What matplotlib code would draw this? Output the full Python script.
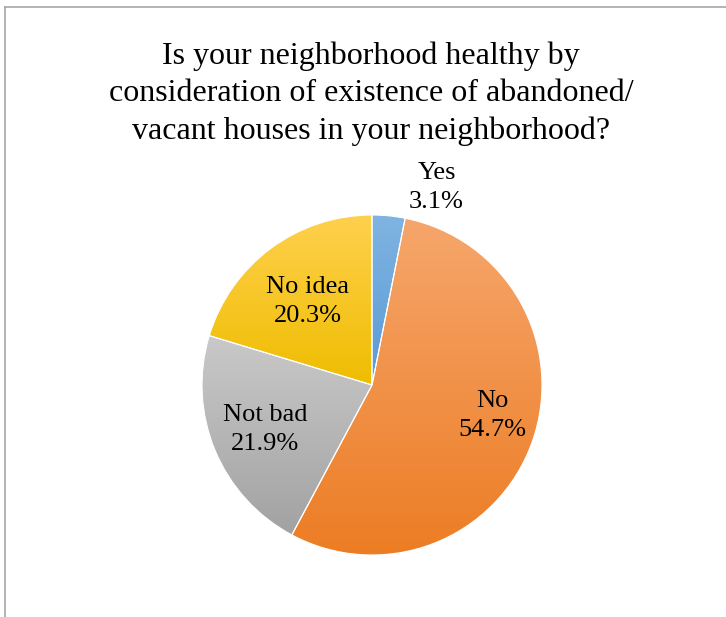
import numpy as np
import matplotlib.pyplot as plt
from matplotlib.colors import LinearSegmentedColormap
from matplotlib.lines import Line2D

# ----- Data -----
categories = ["Yes", "No", "Not bad", "No idea"]
counts = [2, 35, 14, 13]  # out of 64 responses
title = ("Is your neighborhood healthy by\n"
         "consideration of existence of abandoned/\n"
         "vacant houses in your neighborhood?")

# gradient colours (top, bottom) per slice
grad_top = ["#80B4E2", "#F6A66C", "#C9C9C9", "#FFD04E"]
grad_bottom = ["#5A9AD4", "#EC7D24", "#A2A2A2", "#EFBD00"]

plt.rcParams["font.family"] = ["Liberation Serif", "DejaVu Serif"]

W, H = 726, 617
fig = plt.figure(figsize=(W / 100, H / 100), dpi=100)

# chart frame (only top and left edges visible)
fig.add_artist(Line2D([5 / W, 1], [1 - 7 / H, 1 - 7 / H], color="#A6A6A6", lw=1.2))
fig.add_artist(Line2D([5 / W, 5 / W], [0, 1 - 7 / H], color="#A6A6A6", lw=1.2))

# title
fig.text(371 / W, 1 - 94 / H, title, ha="center", va="center",
         fontsize=23, linespacing=1.37)

# pie axes: center (372, 385), radius 170 px
cx, cy, r = 372, 385, 170
ax = fig.add_axes([(cx - r) / W, (H - cy - r) / H, 2 * r / W, 2 * r / H])

pcts = [100 * c / sum(counts) for c in counts]
labels = [f"{c}\n{p:.1f}%" for c, p in zip(categories, pcts)]

wedges, texts = ax.pie(counts, labels=labels, startangle=90, counterclock=False,
                       labeldistance=0.68,
                       wedgeprops=dict(edgecolor="white", linewidth=0.8),
                       textprops=dict(fontsize=19, ha="center", va="center",
                                      linespacing=1.4))

# move small "Yes" label outside like the original
texts[0].set_position((0.38, 1.16))
# nudge the inner labels to where the original chart puts them
texts[1].set_position((0.71, -0.18))
texts[3].set_position((-0.38, 0.49))

# vertical gradient fill clipped to each slice
for w, top, bot in zip(wedges, grad_top, grad_bottom):
    ext = w.get_path().get_extents()
    cmap = LinearSegmentedColormap.from_list("g", [bot, top])
    grad = np.linspace(0, 1, 256).reshape(-1, 1)
    im = ax.imshow(grad, cmap=cmap, aspect="auto", origin="lower",
                   extent=[ext.x0, ext.x1, ext.y0, ext.y1], zorder=1,
                   interpolation="bilinear")
    im.set_clip_path(w)
    w.set_facecolor("none")
    w.set_zorder(2)

for t in texts:
    t.set_zorder(3)

ax.set_xlim(-1, 1)
ax.set_ylim(-1, 1)
ax.set_aspect("equal")
ax.axis("off")

fig.savefig("out.png", dpi=100)
